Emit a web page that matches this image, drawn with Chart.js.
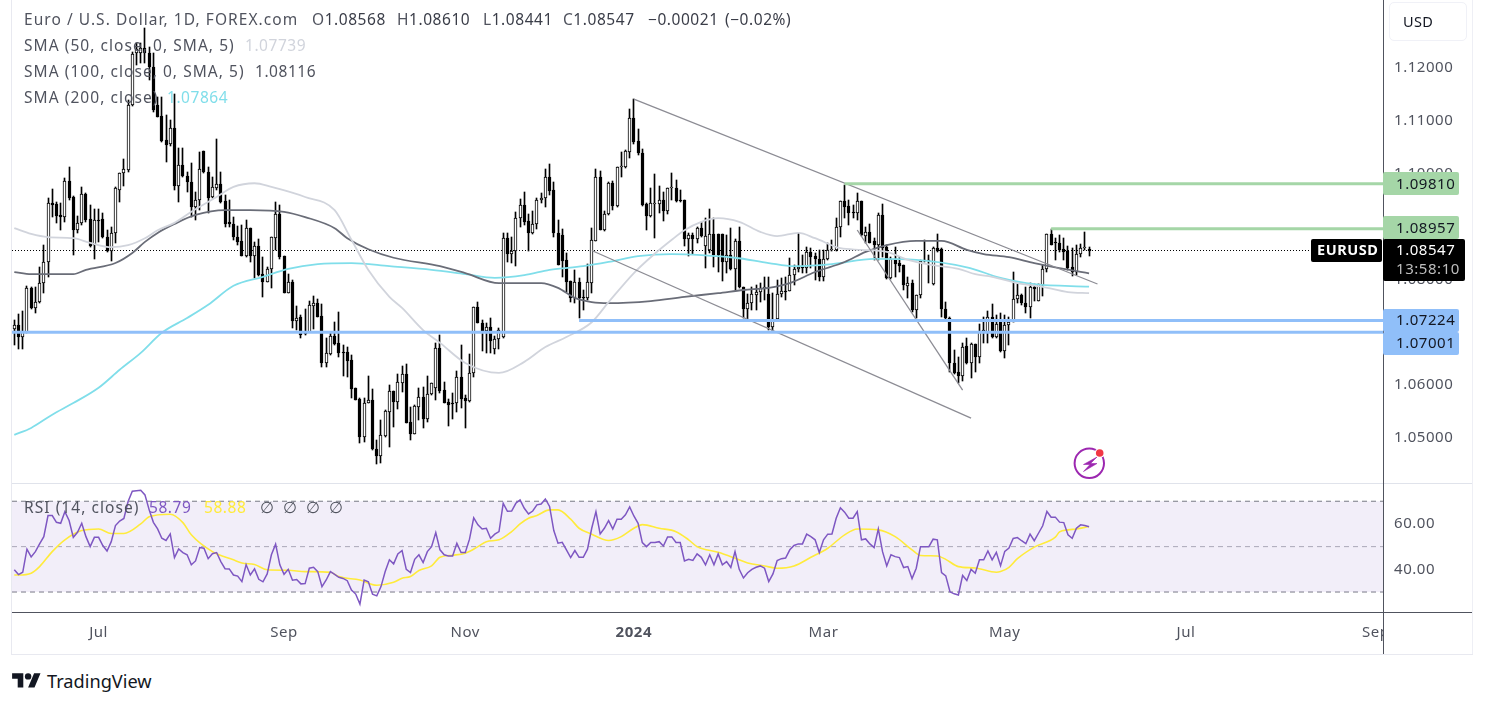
<!DOCTYPE html>
<html><head><meta charset="utf-8">
<style>
html,body{margin:0;padding:0;background:#fff;width:1488px;height:707px;overflow:hidden;font-family:"Noto Sans",sans-serif}
.ln{position:absolute}
canvas{position:absolute}
.t{position:absolute;white-space:pre;font-size:15.5px;line-height:20px;color:#50535e;z-index:5;letter-spacing:1.05px}
.n{letter-spacing:.55px}
.d{color:#3a3d48}
</style>
<script src="https://cdn.jsdelivr.net/npm/chart.js@4/dist/chart.umd.js"></script>
</head><body>
<div class="ln" style="left:11px;top:0;width:1px;height:654px;background:#e8e9f0"></div>
<div class="ln" style="left:11px;top:654px;width:1462px;height:1px;background:#e8e9f0"></div>
<div class="ln" style="left:1472px;top:0;width:1px;height:654px;background:#eeeff5"></div>
<div class="ln" style="left:12px;top:483px;width:1460px;height:1px;background:#e0e3eb"></div>
<div class="ln" style="left:12px;top:612px;width:1460px;height:1px;background:#50535e"></div>
<div class="ln" style="left:1383px;top:0;width:1px;height:654px;background:#50535e"></div>
<div class="ln" style="left:1389px;top:2px;width:76px;height:37px;border:1px solid #f0f1f7;border-radius:5px;background:#fff"></div>
<canvas id="price" width="1460" height="484" style="left:12px;top:0"></canvas>
<canvas id="rsi" width="1460" height="170" style="left:12px;top:484px"></canvas>

<span class="t" style="left:24px;top:9px">Euro / U.S. Dollar, 1D, FOREX.com</span>
<span class="t n" style="left:312px;top:9px">O<span class="d">1.08568</span></span>
<span class="t n" style="left:397px;top:9px">H<span class="d">1.08610</span></span>
<span class="t n" style="left:483px;top:9px">L<span class="d">1.08441</span></span>
<span class="t n" style="left:563px;top:9px">C<span class="d">1.08547</span></span>
<span class="t n d" style="left:648px;top:9px">−0.00021</span>
<span class="t n d" style="left:725px;top:9px">(−0.02%)</span>
<span class="t" style="left:24px;top:35px">SMA (50, close, 0, SMA, 5)</span>
<span class="t n" style="left:245px;top:35px;color:#d1d4dc">1.07739</span>
<span class="t" style="left:24px;top:61px">SMA (100, close, 0, SMA, 5)</span>
<span class="t n" style="left:255px;top:61px">1.08116</span>
<span class="t" style="left:24px;top:87px">SMA (200, close)</span>
<span class="t n" style="left:167px;top:87px;color:#80deea">1.07864</span>
<span class="t" style="left:24px;top:497px">RSI (14, close)</span>
<span class="t n" style="left:149px;top:497px;color:#7e57c2">58.79</span>
<span class="t n" style="left:204px;top:497px;color:#ffeb3b">58.88</span>
<span class="t" style="left:260px;top:497px">∅</span>
<span class="t" style="left:283px;top:497px">∅</span>
<span class="t" style="left:306px;top:497px">∅</span>
<span class="t" style="left:329px;top:497px">∅</span>
<span class="t" style="left:1403px;top:11px;color:#131722;font-size:14.5px;letter-spacing:.4px">USD</span>
<span class="t" style="left:47px;top:670px;color:#131722;font-size:18.2px;line-height:22px;letter-spacing:0">TradingView</span>

<svg style="position:absolute;left:12px;top:669.8px" width="29" height="22.4" viewBox="0 0 36 28"><path fill="#131722" d="M14 22H7V11H0V4h14v18zM28 22h-8l7.5-18h8L28 22z"/><circle fill="#131722" cx="20" cy="8" r="4"/></svg>
<svg style="position:absolute;left:1070px;top:444px;z-index:4" width="40" height="40" viewBox="1070 444 40 40">
<circle cx="1089.3" cy="463.3" r="14.7" fill="#fff" stroke="#9c27b0" stroke-width="2"/>
<path fill="#9c27b0" stroke="#9c27b0" stroke-width=".6" d="M1097 457L1083.5 464.5H1090L1083.5 471.5L1097 463.5H1090.5Z"/>
<circle cx="1099.7" cy="453" r="5" fill="#fff"/><circle cx="1099.7" cy="453" r="3.8" fill="#f23645"/>
</svg>

<script>
const opens=[
1.0706,1.0714,1.0691,1.0700,1.0784,1.0746,1.0757,1.0793,1.0833,1.0945,
1.0943,1.0922,1.0918,1.0986,1.0956,1.0893,1.0907,1.0962,1.0914,1.0865,
1.0912,1.0914,1.0880,1.0854,1.0888,1.0969,1.1001,1.1007,1.1130,1.1228,
1.1228,1.1238,1.1228,1.1202,1.1130,1.1109,1.1064,1.1056,1.1087,1.0977,
1.1017,1.0996,1.0984,1.0937,1.0950,1.1043,1.1003,1.0956,1.0973,1.0981,
1.0948,1.0909,1.0905,1.0880,1.0873,1.0844,1.0897,1.0844,1.0863,1.0810,
1.0795,1.0820,1.0878,1.0924,1.0844,1.0774,1.0795,1.0721,1.0729,1.0699,
1.0700,1.0750,1.0755,1.0731,1.0642,1.0659,1.0693,1.0680,1.0663,1.0663,
1.0648,1.0595,1.0574,1.0502,1.0566,1.0572,1.0479,1.0466,1.0504,1.0549,
1.0589,1.0568,1.0604,1.0621,1.0530,1.0508,1.0559,1.0578,1.0536,1.0583,
1.0595,1.0670,1.0591,1.0568,1.0566,1.0566,1.0615,1.0576,1.0570,1.0623,
1.0748,1.0718,1.0702,1.0710,1.0668,1.0687,1.0691,1.0878,1.0848,1.0854,
1.0916,1.0941,1.0911,1.0888,1.0905,1.0950,1.0954,1.0994,1.0969,1.0888,
1.0884,1.0837,1.0797,1.0765,1.0795,1.0767,1.0765,1.0793,1.0873,1.0994,
1.0893,1.0924,1.0982,1.0939,1.1013,1.1013,1.1041,1.1105,1.1062,1.1039,
1.0943,1.0920,1.0943,1.0943,1.0950,1.0929,1.0973,1.0973,1.0950,1.0950,
1.0876,1.0884,1.0876,1.0897,1.0863,1.0856,1.0886,1.0886,1.0886,1.0833,
1.0846,1.0820,1.0873,1.0786,1.0744,1.0755,1.0771,1.0776,1.0784,1.0772,
1.0710,1.0725,1.0772,1.0778,1.0778,1.0808,1.0820,1.0823,1.0822,1.0852,
1.0844,1.0839,1.0805,1.0839,1.0856,1.0856,1.0899,1.0948,1.0939,1.0926,
1.0926,1.0948,1.0882,1.0890,1.0873,1.0865,1.0922,1.0861,1.0803,1.0839,
1.0831,1.0827,1.0788,1.0793,1.0742,1.0771,1.0835,1.0837,1.0791,1.0859,
1.0857,1.0744,1.0727,1.0642,1.0625,1.0617,1.0674,1.0642,1.0678,1.0653,
1.0700,1.0700,1.0729,1.0691,1.0719,1.0665,1.0714,1.0719,1.0763,1.0771,
1.0755,1.0748,1.0786,1.0759,1.0789,1.0820,1.0886,1.0869,1.0869,1.0857,
1.0854,1.0823,1.0814,1.0848,1.0859,1.08568];
const highs=[
1.0723,1.0735,1.0740,1.0788,1.0786,1.0786,1.0823,1.0865,1.0954,1.0971,
1.0947,1.0945,1.0992,1.1013,1.0958,1.0920,1.0975,1.0963,1.0941,1.0933,
1.0933,1.0926,1.0893,1.0899,1.0975,1.1001,1.1028,1.1140,1.1230,1.1247,
1.1247,1.1276,1.1240,1.1228,1.1145,1.1145,1.1111,1.1102,1.1151,1.1049,
1.1049,1.1003,1.1020,1.0965,1.1041,1.1043,1.1013,1.0994,1.1066,1.1003,
1.0960,1.0950,1.0918,1.0901,1.0903,1.0912,1.0897,1.0871,1.0876,1.0842,
1.0823,1.0880,1.0947,1.0941,1.0844,1.0810,1.0799,1.0750,1.0733,1.0744,
1.0759,1.0769,1.0763,1.0753,1.0689,1.0699,1.0719,1.0738,1.0676,1.0672,
1.0657,1.0595,1.0576,1.0576,1.0617,1.0593,1.0496,1.0534,1.0553,1.0600,
1.0589,1.0621,1.0636,1.0640,1.0559,1.0562,1.0595,1.0597,1.0617,1.0604,
1.0680,1.0695,1.0606,1.0574,1.0585,1.0627,1.0676,1.0581,1.0659,1.0748,
1.0757,1.0723,1.0718,1.0727,1.0693,1.0708,1.0888,1.0888,1.0880,1.0928,
1.0952,1.0965,1.0924,1.0929,1.0954,1.0963,1.1009,1.1018,1.0984,1.0912,
1.0895,1.0850,1.0797,1.0818,1.0803,1.0780,1.0829,1.0897,1.1009,1.1005,
1.0929,1.0984,1.0986,1.1013,1.1041,1.1045,1.1122,1.1141,1.1085,1.1047,
1.0945,1.0973,1.0999,1.0977,1.0965,1.0973,1.1001,1.0988,1.0969,1.0950,
1.0888,1.0888,1.0899,1.0909,1.0916,1.0933,1.0916,1.0886,1.0886,1.0884,
1.0897,1.0876,1.0899,1.0786,1.0772,1.0786,1.0789,1.0793,1.0805,1.0805,
1.0774,1.0799,1.0803,1.0805,1.0841,1.0827,1.0888,1.0846,1.0861,1.0859,
1.0850,1.0856,1.0856,1.0869,1.0875,1.0916,1.0948,1.0979,1.0950,1.0941,
1.0963,1.0948,1.0899,1.0905,1.0878,1.0926,1.0943,1.0865,1.0842,1.0861,
1.0842,1.0827,1.0805,1.0799,1.0771,1.0837,1.0875,1.0846,1.0861,1.0886,
1.0859,1.0757,1.0729,1.0666,1.0653,1.0680,1.0689,1.0680,1.0678,1.0716,
1.0729,1.0740,1.0753,1.0733,1.0736,1.0733,1.0729,1.0814,1.0791,1.0772,
1.0786,1.0793,1.0791,1.0791,1.0827,1.0886,1.0895,1.0878,1.0884,1.0878,
1.0863,1.0859,1.0865,1.0867,1.0890,1.08610];
const lows=[
1.0676,1.0668,1.0668,1.0699,1.0744,1.0736,1.0755,1.0774,1.0805,1.0918,
1.0907,1.0893,1.0909,1.0950,1.0846,1.0888,1.0903,1.0909,1.0861,1.0839,
1.0871,1.0878,1.0852,1.0835,1.0869,1.0947,1.0977,1.1003,1.1128,1.1206,
1.1210,1.1210,1.1177,1.1117,1.1107,1.1060,1.1022,1.1052,1.0969,1.0947,
1.0994,1.0965,1.0918,1.0912,1.0931,1.1001,1.0926,1.0954,1.0969,1.0945,
1.0899,1.0899,1.0875,1.0865,1.0844,1.0842,1.0833,1.0803,1.0806,1.0767,
1.0795,1.0784,1.0856,1.0839,1.0774,1.0774,1.0708,1.0704,1.0689,1.0695,
1.0700,1.0706,1.0729,1.0634,1.0634,1.0657,1.0676,1.0653,1.0617,1.0615,
1.0576,1.0572,1.0490,1.0492,1.0566,1.0477,1.0451,1.0453,1.0502,1.0483,
1.0521,1.0555,1.0587,1.0528,1.0496,1.0508,1.0534,1.0519,1.0530,1.0581,
1.0572,1.0585,1.0566,1.0523,1.0536,1.0549,1.0557,1.0519,1.0568,1.0615,
1.0718,1.0665,1.0661,1.0661,1.0659,1.0668,1.0689,1.0833,1.0831,1.0825,
1.0899,1.0903,1.0854,1.0886,1.0895,1.0945,1.0937,1.0960,1.0880,1.0827,
1.0805,1.0776,1.0757,1.0755,1.0727,1.0742,1.0761,1.0774,1.0873,1.0893,
1.0892,1.0922,1.0931,1.0937,1.0994,1.1011,1.1030,1.1056,1.1035,1.0939,
1.0893,1.0918,1.0878,1.0926,1.0911,1.0924,1.0950,1.0947,1.0947,1.0863,
1.0844,1.0848,1.0869,1.0880,1.0822,1.0850,1.0823,1.0814,1.0797,1.0812,
1.0818,1.0780,1.0784,1.0727,1.0725,1.0742,1.0742,1.0757,1.0761,1.0704,
1.0700,1.0723,1.0767,1.0761,1.0778,1.0789,1.0814,1.0812,1.0812,1.0822,
1.0799,1.0797,1.0797,1.0837,1.0854,1.0854,1.0880,1.0916,1.0903,1.0916,
1.0912,1.0882,1.0869,1.0869,1.0837,1.0837,1.0842,1.0801,1.0801,1.0805,
1.0814,1.0780,1.0765,1.0738,1.0727,1.0765,1.0833,1.0793,1.0789,1.0852,
1.0729,1.0725,1.0625,1.0621,1.0604,1.0608,1.0640,1.0613,1.0625,1.0642,
1.0680,1.0680,1.0689,1.0689,1.0663,1.0651,1.0676,1.0719,1.0755,1.0752,
1.0736,1.0727,1.0759,1.0759,1.0769,1.0814,1.0865,1.0837,1.0852,1.0837,
1.0818,1.0806,1.0808,1.0842,1.0856,1.08441];
const closes=[
1.0714,1.0691,1.0700,1.0784,1.0746,1.0757,1.0793,1.0833,1.0945,1.0941,
1.0920,1.0918,1.0986,1.0954,1.0893,1.0907,1.0962,1.0912,1.0863,1.0912,
1.0911,1.0880,1.0854,1.0888,1.0973,1.1001,1.1009,1.1130,1.1227,1.1236,
1.1238,1.1228,1.1202,1.1121,1.1107,1.1062,1.1054,1.1087,1.0977,1.1017,
1.0996,1.0984,1.0937,1.0950,1.1009,1.1003,1.0954,1.0975,1.0981,1.0947,
1.0905,1.0905,1.0880,1.0871,1.0844,1.0897,1.0844,1.0863,1.0808,1.0795,
1.0820,1.0880,1.0924,1.0842,1.0774,1.0795,1.0721,1.0727,1.0695,1.0697,
1.0752,1.0755,1.0729,1.0642,1.0661,1.0693,1.0678,1.0661,1.0661,1.0646,
1.0593,1.0572,1.0502,1.0566,1.0572,1.0479,1.0466,1.0506,1.0551,1.0589,
1.0568,1.0606,1.0621,1.0528,1.0508,1.0561,1.0578,1.0536,1.0583,1.0604,
1.0670,1.0589,1.0566,1.0562,1.0564,1.0615,1.0574,1.0570,1.0623,1.0748,
1.0718,1.0702,1.0710,1.0683,1.0687,1.0704,1.0878,1.0848,1.0854,1.0916,
1.0941,1.0909,1.0888,1.0905,1.0950,1.0954,1.0994,1.0967,1.0888,1.0827,
1.0835,1.0795,1.0765,1.0795,1.0765,1.0765,1.0795,1.0875,1.0994,1.0893,
1.0924,1.0982,1.0939,1.1013,1.1015,1.1043,1.1105,1.1060,1.1039,1.0941,
1.0920,1.0945,1.0945,1.0950,1.0929,1.0973,1.0975,1.0948,1.0948,1.0876,
1.0884,1.0876,1.0897,1.0882,1.0882,1.0886,1.0846,1.0846,1.0833,1.0846,
1.0820,1.0873,1.0786,1.0744,1.0755,1.0772,1.0776,1.0784,1.0785,1.0710,
1.0725,1.0772,1.0778,1.0777,1.0808,1.0820,1.0823,1.0822,1.0852,1.0842,
1.0839,1.0805,1.0839,1.0856,1.0857,1.0899,1.0948,1.0937,1.0926,1.0925,
1.0948,1.0884,1.0890,1.0869,1.0865,1.0922,1.0859,1.0803,1.0839,1.0829,
1.0825,1.0789,1.0793,1.0742,1.0771,1.0835,1.0837,1.0835,1.0859,1.0854,
1.0744,1.0727,1.0642,1.0623,1.0617,1.0672,1.0642,1.0678,1.0653,1.0700,
1.0704,1.0729,1.0691,1.0716,1.0665,1.0714,1.0719,1.0763,1.0771,1.0755,
1.0748,1.0786,1.0782,1.0791,1.0820,1.0886,1.0865,1.0868,1.0856,1.0852,
1.0822,1.0814,1.0848,1.0859,1.0860,1.08547];

const sma50Bars=[0,4,8,14,18,23,27,31,34,38,42,48,52,57,61,69,76,80,84,89,92,97,101,107,115,121,126,131,137,141,147,151,156,159,163,167,172,177,181,186,190,196,201,207,212,218,224,228,232,238,244,250,255];
const sma50=[1.0897,1.0886,1.0880,1.0878,1.0869,1.0861,1.0865,1.0878,1.0893,1.0907,1.0928,1.0956,1.0975,1.0982,1.0975,1.0956,1.0931,1.0875,1.0818,1.0767,1.0746,1.0704,1.0680,1.0642,1.0623,1.0644,1.0672,1.0691,1.0719,1.0757,1.0812,1.0842,1.0875,1.0893,1.0909,1.0916,1.0909,1.0890,1.0882,1.0888,1.0878,1.0859,1.0856,1.0852,1.0837,1.0827,1.0820,1.0810,1.0805,1.0793,1.0786,1.0776,1.07739];
const sma100Bars=[0,4,14,17,24,28,31,34,38,43,50,56,64,69,76,79,84,90,101,107,115,125,129,133,137,141,151,159,167,173,179,184,190,197,202,207,214,220,226,230,236,242,249,255];
const sma100=[1.0814,1.0810,1.0810,1.0818,1.0831,1.0850,1.0871,1.0888,1.0905,1.0922,1.0931,1.0931,1.0928,1.0918,1.0897,1.0878,1.0857,1.0841,1.0825,1.0812,1.0793,1.0793,1.0784,1.0765,1.0757,1.0755,1.0759,1.0767,1.0774,1.0780,1.0784,1.0793,1.0814,1.0833,1.0852,1.0865,1.0873,1.0873,1.0856,1.0848,1.0842,1.0831,1.0820,1.08116];
const sma200Bars=[0,4,9,14,20,25,30,35,41,46,52,59,65,72,80,89,99,107,114,121,127,135,141,148,156,163,171,179,185,194,204,214,226,234,242,255];
const sma200=[1.0506,1.0519,1.0544,1.0566,1.0595,1.0629,1.0661,1.0699,1.0727,1.0752,1.0788,1.0805,1.0820,1.0829,1.0831,1.0825,1.0818,1.0810,1.0803,1.0808,1.0818,1.0825,1.0833,1.0844,1.0848,1.0846,1.0841,1.0831,1.0825,1.0829,1.0839,1.0837,1.0823,1.0803,1.0791,1.07864];

const rsi=[
39.8,37.7,38.7,48.9,45.5,47.8,51.2,54.4,63.7,63.7,
60.7,60.3,65.4,61.5,54.1,56.3,60.3,54.4,50,54.1,
54.1,50.5,48.1,52.2,59.3,61.3,62.4,69.9,74.4,74.6,
74.8,72.8,66.2,60.7,57.8,53.7,52.7,55.6,45.2,49,
47.4,46.4,42,43.7,49.6,49.3,44.7,46.9,47.4,43.4,
40.3,40.2,37.5,37,34.6,42.1,37.5,40.2,35.6,34.5,
38,46.4,51.1,42,37.8,40,35.2,35.5,33.6,33.7,
40.5,40.9,39,32.4,35.3,39,37.8,36.5,36,35,
30.9,29.1,24.7,35.3,34.5,29,28.3,32.4,39,44.2,
42.4,46.8,48.3,40,38.6,44.4,46.4,43,47.8,50,
56.2,48.6,46.4,45.9,45.9,51.5,47.4,47.4,53.3,62.7,
59.6,57.8,58.1,53.7,55.5,56.6,69.1,65.6,65.7,69.1,
70.6,66.9,64.4,65.7,68.4,68.8,71,67.7,57.1,51.5,
51.9,48.6,45.2,48.3,45.3,45.3,48.9,58.1,65.4,55.6,
58.1,61.5,57.8,62.1,62.1,64,67.5,63.5,60.3,51.8,
50,51.8,51.8,52.2,50.3,54.3,54.3,51.8,51.8,43.7,
44.4,43.9,46.8,45.3,42,46.4,42,46.8,42,43.4,
40.8,47.8,40,36.2,38.5,40,40.9,41.5,40.5,34.6,
38,43.9,44.7,45,48.6,50.5,51.2,51.2,55.5,54.4,
53,47.4,53,55.5,55.6,62.5,67.1,65.2,62.5,62.5,
65.4,53,53.4,51.2,49.6,57.8,47.8,41.5,46.4,45.6,
45.2,40.8,41.2,35.9,40.5,50,50,50,53.3,53,
38.6,37.1,30.1,29.2,28.7,37.3,35.1,40,38.3,44.2,
44.2,48.1,44.2,47.5,41.6,47.9,49.4,53.6,54,52.6,
51.3,55.5,52.6,55.9,59.2,65.5,63,63,60.8,60.6,
55.2,53.7,58.1,59.6,59.3,58.79];
const rsiMaBars=[0,1,4,6,9,12,16,20,23,26,30,32,37,40,42,47,52,54,57,60,65,69,75,77,82,86,90,92,94,96,99,101,104,107,110,112,115,118,120,122,124,127,129,132,134,137,141,144,147,149,153,157,160,162,167,171,174,178,181,185,189,193,197,200,205,209,213,215,219,221,224,228,233,234,236,238,242,247,248,250,252,255];
const rsiMa=[37.5,37.5,38.3,41.2,47.8,53,57.1,57.8,55.8,55.8,60,63.2,64.3,60.6,55.2,47.8,44.2,42.8,42.1,39.8,39.6,39,38.7,36.8,35.3,33,34.3,36.1,36.8,39.5,41.5,45.3,46.2,47.1,50,52.2,53,56.6,60,62.5,63.7,66.2,66.2,62.1,58.1,55.5,52.7,54.4,58.1,59.7,58.1,56.6,53,50,47.5,44.9,42.8,41.5,40.5,41.5,45.3,49.3,55.2,57.8,57.4,54.4,48.6,46.1,45.9,44.4,41.2,40.6,38.7,39,40.9,44.7,49.8,54.2,56.5,57.4,57.8,58.88];

const priceTicks=[1.05,1.06,1.07,1.08,1.09,1.10,1.11,1.12];
const rsiTicks=[40,60];
const rsiBands=[70,50,30];
const timeLabels=['Jul','Sep','Nov','2024','Mar','May','Jul','Sep'];
const timeBars=[20,64,107,147,192,235,278,323];
const levelValues=[1.09810,1.08957,1.07224,1.07001];
const levelLabels=['1.09810','1.08957','1.07224','1.07001'];
const levelStartBars=[197,246,134,-0.55];
const lastPrice=1.08547;
const trendA=[[147,1.11413],[257,1.07913]];
const trendB=[[137,1.08547],[227,1.05377]];
const trendC=[[200,1.08935],[225,1.05907]];

const BARMIN=-0.546, BARMAX=324.74;
const INK='#50535e', FONT='"Noto Sans", sans-serif';
Chart.defaults.font.family=FONT;
Chart.defaults.devicePixelRatio=1;

const zip=(a,b)=>a.map((v,i)=>({x:v,y:b[i]}));
const idx=opens.map((_,i)=>i);
const line=(data,color,w,order,extra)=>Object.assign({type:'line',data,borderColor:color,borderWidth:w,pointRadius:0,pointHoverRadius:0,tension:0,fill:false,order},extra||{});
const smooth={cubicInterpolationMode:'monotone'};
const snap={id:'snap',afterDatasetsUpdate(c){c.getSortedVisibleDatasetMetas().forEach(m=>{if(m.type!=='bar')return;m.data.forEach(e=>{e.x=Math.floor(e.x)+.5;e.y=Math.round(e.y);e.base=Math.round(e.base);});});}};
const spacing={id:'spacing',beforeDraw(c){c.ctx.letterSpacing='0.55px';}};
function zeroPad(a){a.paddingTop=0;a.paddingBottom=0;a.paddingLeft=0;a.paddingRight=0;}
function xAxis(show){return {type:'linear',display:show,offset:false,min:BARMIN,max:BARMAX,
  afterBuildTicks(a){a.ticks=timeBars.map(v=>({value:v}));},
  afterFit(a){zeroPad(a);if(show)a.height=42;},
  grid:{display:false,drawTicks:false,offset:false},border:{display:false},
  ticks:{autoSkip:false,maxRotation:0,padding:12,color:INK,
    font:c=>({size:15,weight:c.tick&&timeLabels[timeBars.indexOf(c.tick.value)]==='2024'?'bold':'normal'}),
    callback:v=>timeLabels[timeBars.indexOf(v)]}};}
function yAxis(min,max,ticks,dec){return {type:'linear',position:'right',min,max,
  afterBuildTicks(a){a.ticks=ticks.map(v=>({value:v}));},
  afterFit(a){zeroPad(a);a.width=89;},
  grid:{display:false,drawTicks:false},border:{display:false},
  ticks:{padding:11,color:INK,font:{size:15},autoSkip:false,callback:v=>v.toFixed(dec)}};}

const tags={id:'tags',afterDraw(c){
  const ctx=c.ctx,y=c.scales.y,L=1371;
  ctx.save();ctx.textBaseline='middle';ctx.textAlign='left';ctx.font='15px '+FONT;
  const box=(x,t,w,h,col)=>{ctx.fillStyle=col;ctx.beginPath();ctx.roundRect(x,t,w,h,2);ctx.fill();};
  const cols=['#a5d6a7','#a5d6a7','#90bff9','#90bff9'];
  const nudges=[0,-1,0,11.5];
  levelValues.forEach((v,i)=>{const p=y.getPixelForValue(v)+nudges[i];
    box(L,Math.round(p-11.5),76,23,cols[i]);
    ctx.fillStyle='#131722';ctx.fillText(levelLabels[i],L+13,p+.5);});
  const p=y.getPixelForValue(lastPrice);
  box(L-72,Math.round(p-11.5),71,23,'#000');
  box(L,Math.round(p-11.5),82,42,'#000');
  ctx.fillStyle='#fff';ctx.font='bold 14.5px '+FONT;ctx.fillText('EURUSD',L-66,p+.5);
  ctx.font='15px '+FONT;ctx.fillText('1.08547',L+13,p+.5);
  ctx.fillStyle='#bdbdbd';ctx.fillText('13:58:10',L+13,p+19.5);
  ctx.restore();}};

new Chart(document.getElementById('price'),{
  data:{datasets:[
    {type:'bar',data:idx.map(i=>({x:i,y:[lows[i],highs[i]]})),backgroundColor:'#000',barThickness:1,grouped:false,order:10},
    {type:'bar',data:idx.map(i=>({x:i,y:[opens[i],closes[i]]})),backgroundColor:idx.map(i=>closes[i]>=opens[i]?'#fff':'#000'),borderColor:'#000',borderWidth:1,borderSkipped:false,barThickness:3,minBarLength:1,grouped:false,order:9},
    line([{x:BARMIN,y:lastPrice},{x:BARMAX,y:lastPrice}],'#000',1,11,{borderDash:[1,2]}),
    line(zip(sma50Bars,sma50),'#d1d4dc',1.8,5,smooth),
    line(zip(sma100Bars,sma100),'#6a6d78',1.8,5,smooth),
    line(zip(sma200Bars,sma200),'#80deea',1.8,5,smooth),
    ...levelValues.map((v,i)=>line([{x:levelStartBars[i],y:v},{x:BARMAX,y:v}],i<2?'#a5d6a7':'#90bff9',3,1)),
    ...[trendA,trendB,trendC].map(t=>line(t.map(p=>({x:p[0],y:p[1]})),'#8c8c94',1.3,2))
  ]},
  options:{responsive:false,animation:false,events:[],layout:{padding:0},
    plugins:{legend:{display:false},tooltip:{enabled:false}},
    scales:{x:xAxis(false),y:yAxis(1.04129,1.13287,priceTicks,5)}},
  plugins:[spacing,snap,tags]});

const clipSep={id:'clipSep',afterDraw(c){const x=c.ctx;x.save();x.fillStyle='#fff';x.fillRect(1371,129,89,41);x.fillStyle='#50535e';x.fillRect(1371,129,1,41);x.restore();}};
new Chart(document.getElementById('rsi'),{
  data:{datasets:[
    line([{x:BARMIN,y:rsiBands[0]},{x:BARMAX,y:rsiBands[0]}],'#787b86',1,8,{borderDash:[5,4],fill:{target:'+1'},backgroundColor:'rgba(126,87,194,0.1)'}),
    line([{x:BARMIN,y:rsiBands[2]},{x:BARMAX,y:rsiBands[2]}],'#787b86',1,8,{borderDash:[5,4]}),
    line([{x:BARMIN,y:rsiBands[1]},{x:BARMAX,y:rsiBands[1]}],'rgba(120,123,134,.6)',1,8,{borderDash:[5,4]}),
    line(zip(rsiMaBars,rsiMa),'#ffeb3b',1.6,4,smooth),
    line(zip(idx,rsi),'#7e57c2',1.5,3)
  ]},
  options:{responsive:false,animation:false,events:[],layout:{padding:0},
    plugins:{legend:{display:false},tooltip:{enabled:false}},
    scales:{x:xAxis(true),y:yAxis(21.2,77.6,rsiTicks,2)}},
  plugins:[spacing,clipSep]});
</script>
</body></html>
